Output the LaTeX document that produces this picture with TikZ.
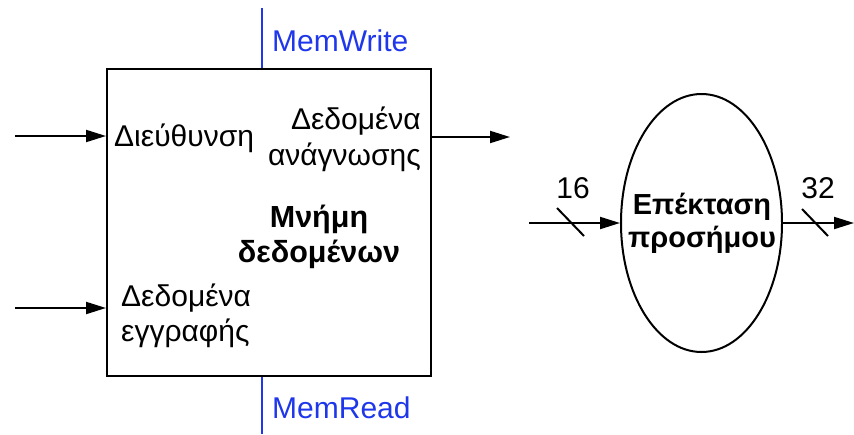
\documentclass[tikz,border=0pt]{standalone}
\usepackage{fontspec}
\setmainfont{Liberation Sans}
\usetikzlibrary{shapes.geometric,arrows.meta}
\definecolor{ctrlblue}{RGB}{30,55,235}
\tikzset{
  lbl/.style={inner sep=0pt,font=\fontsize{30}{36}\selectfont},
  blbl/.style={lbl,font=\fontsize{30.5}{36}\selectfont\bfseries},
  eblbl/.style={lbl,font=\fontsize{29}{35}\selectfont\bfseries},
  ctl/.style={lbl,text=ctrlblue},
  wire/.style={line width=2pt,black},
  arr/.style={wire,-{Triangle[length=20pt,width=12pt]}},
  ctlwire/.style={line width=2pt,ctrlblue},
  blockbox/.style={draw,line width=2pt,rectangle,inner sep=0pt},
}
\begin{document}
\begin{tikzpicture}[x=1pt,y=-1pt]
\useasboundingbox (0,0) rectangle (854,434);
% memory block
\node[blockbox,minimum width=324pt,minimum height=307pt] (mem) at (269,222.5) {};
\node[lbl,anchor=base west] (addr) at (114,146) {Διεύθυνση};
\node[lbl,anchor=base east] (rd1) at (421,129) {Δεδομένα};
\node[lbl,anchor=base east] (rd2) at (421,165) {ανάγνωσης};
\node[blbl,anchor=base] (t1) at (319,227) {Μνήμη};
\node[blbl,anchor=base] (t2) at (319,262) {δεδομένων};
\node[lbl,anchor=base west] (wd1) at (121,306) {Δεδομένα};
\node[lbl,anchor=base west] (wd2) at (121,341) {εγγραφής};
% control signals
\coordinate (mw) at (262,8);
\coordinate (mr) at (262,434);
\draw[ctlwire] (mw) -- (mw |- mem.north);
\draw[ctlwire] (mr) -- (mr |- mem.south);
\node[ctl,anchor=base west] (mwl) at (272,51) {MemWrite};
\node[ctl,anchor=base west] (mrl) at (272,418) {MemRead};
% memory wires
\coordinate (ain) at (15,136);
\coordinate (win) at (15,308);
\coordinate (rout) at (510,137);
\draw[arr] (ain) -- (ain -| mem.west);
\draw[arr] (win) -- (win -| mem.west);
\draw[arr] (rout -| mem.east) -- (rout);
% sign extension
\node[draw,line width=2pt,ellipse,inner sep=0pt,minimum width=161pt,minimum height=258pt] (ext) at (701.5,223) {};
\node[eblbl,anchor=base] (e1) at (702,214) {Επέκταση};
\node[eblbl,anchor=base] (e2) at (702,247) {προσήμου};
\coordinate (sin) at (529,223);
\coordinate (sout) at (854,223);
\draw[arr] (sin) -- (ext.west);
\draw[arr] (ext.east) -- (sout);
\draw[wire] (557,208) -- (584,236);
\draw[wire] (802,209) -- (828,236);
\node[lbl,anchor=base] (n16) at (573,198) {16};
\node[lbl,anchor=base] (n32) at (818,198) {32};
\end{tikzpicture}
\end{document}
